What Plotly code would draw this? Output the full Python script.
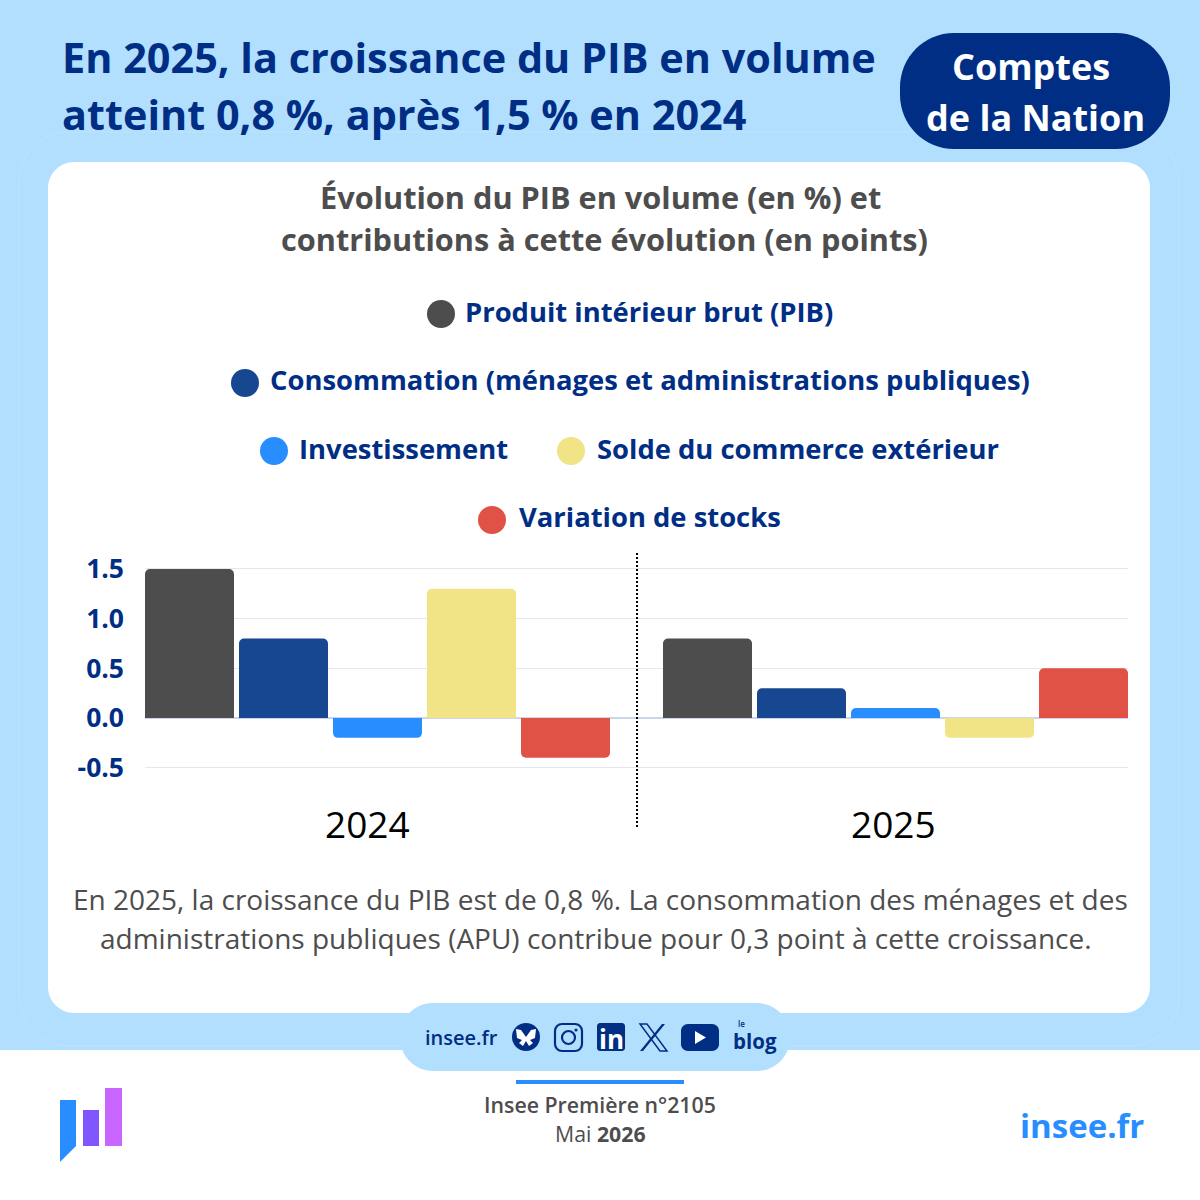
import plotly.graph_objects as go

# data
years = ["2024", "2025"]
series_names = ["Produit intérieur brut (PIB)", "Consommation (ménages et administrations publiques)",
                "Investissement", "Solde du commerce extérieur", "Variation de stocks"]
pib = [1.5, 0.8]
consommation = [0.8, 0.3]
investissement = [-0.2, 0.1]
commerce = [1.3, -0.2]
stocks = [-0.4, 0.5]
all_values = [pib, consommation, investissement, commerce, stocks]
y_ticks = [-0.5, 0, 0.5, 1, 1.5]
y_tick_labels = ["-0.5", "0.0", "0.5", "1.0", "1.5"]
colors = ["#4d4d4d", "#174791", "#288eff", "#f0e486", "#e05246"]

NAVY = "#002e85"
GREY = "#4d4d4d"
SKY = "#b3dfff"
FONT = "Open Sans"


def px(x):
    return x / 1200


def py(y):
    return 1 - y / 1200


def round_rect(x0, y0, x1, y1, r):
    k = r * 0.45
    return (f"M {px(x0 + r)} {py(y0)} L {px(x1 - r)} {py(y0)} "
            f"C {px(x1 - k)} {py(y0)} {px(x1)} {py(y0 + k)} {px(x1)} {py(y0 + r)} "
            f"L {px(x1)} {py(y1 - r)} C {px(x1)} {py(y1 - k)} {px(x1 - k)} {py(y1)} {px(x1 - r)} {py(y1)} "
            f"L {px(x0 + r)} {py(y1)} C {px(x0 + k)} {py(y1)} {px(x0)} {py(y1 - k)} {px(x0)} {py(y1 - r)} "
            f"L {px(x0)} {py(y0 + r)} C {px(x0)} {py(y0 + k)} {px(x0 + k)} {py(y0)} {px(x0 + r)} {py(y0)} Z")


def poly(points):
    return "M " + " L ".join(f"{px(x)} {py(y)}" for x, y in points) + " Z"


shapes = []


def add_path(path, fill="rgba(0,0,0,0)", line=None, width=0, layer="below"):
    shapes.append(dict(type="path", xref="paper", yref="paper", path=path, fillcolor=fill,
                       line=dict(color=line or "rgba(0,0,0,0)", width=width), layer=layer))


def add_circle(cx, cy, r, fill="rgba(0,0,0,0)", line=None, width=0, layer="below"):
    shapes.append(dict(type="circle", xref="paper", yref="paper", x0=px(cx - r), x1=px(cx + r),
                       y0=py(cy + r), y1=py(cy - r), fillcolor=fill,
                       line=dict(color=line or "rgba(0,0,0,0)", width=width), layer=layer))


annotations = []


def add_text(x, y, text, size, color, weight=400, anchor="center"):
    annotations.append(dict(xref="paper", yref="paper", x=px(x), y=py(y), text=text, showarrow=False,
                            xanchor=anchor, yanchor="middle", align=anchor,
                            font=dict(family=FONT, size=size, color=color, weight=weight)))


# background, cards
add_path(poly([(0, 0), (1200, 0), (1200, 1200), (0, 1200)]), fill=SKY)
add_path(round_rect(19, 132, 1179, 1046, 50), line="#bde3ff", width=1)
add_path(poly([(0, 1050), (1200, 1050), (1200, 1200), (0, 1200)]), fill="#ffffff")
add_path(round_rect(48, 162, 1150, 1013, 26), fill="#ffffff")
add_path(round_rect(400, 1003, 790, 1071, 33), fill=SKY)
add_path(round_rect(900, 33, 1170, 149, 54), fill=NAVY)
add_path(poly([(516, 1080), (684, 1080), (684, 1084), (516, 1084)]), fill="#288eff")

# logo
add_path(poly([(60, 1100), (76, 1100), (76, 1146), (60, 1162)]), fill="#288eff")
add_path(poly([(83, 1110), (99, 1110), (99, 1146), (83, 1146)]), fill="#7f56ff")
add_path(poly([(105, 1088), (122, 1088), (122, 1146), (105, 1146)]), fill="#c966ff")

# social icons
add_circle(526, 1037, 14, fill=NAVY)
add_path(poly([(526, 1037), (521, 1030), (516, 1029), (517, 1038), (522, 1040), (519, 1043), (523, 1046), (526, 1041),
               (529, 1046), (533, 1043), (530, 1040), (535, 1038), (536, 1029), (531, 1030)]), fill="#ffffff")
add_path(round_rect(555, 1024, 582, 1051, 7), line=NAVY, width=2.2)
add_circle(568.5, 1037.5, 6.5, line=NAVY, width=2.2)
add_circle(576, 1030, 1.6, fill=NAVY)
add_path(round_rect(597, 1023, 625, 1051, 3), fill=NAVY)
add_path(poly([(640, 1024), (647, 1024), (667, 1051), (660, 1051)]), line=NAVY, width=1.5)
add_path(poly([(665, 1024), (662, 1024), (640, 1051), (643, 1051)]), fill=NAVY)
add_path(round_rect(681, 1024, 719, 1051, 7), fill=NAVY)
add_path(poly([(695, 1031), (695, 1044), (706, 1037.5)]), fill="#ffffff")

# titles
add_text(60, 57, "En 2025, la croissance du PIB en volume", 41.4, NAVY, 700, "left")
add_text(60, 114, "atteint 0,8 %, après 1,5 % en 2024", 41.4, NAVY, 700, "left")
add_text(1030.5, 67, "Comptes", 36, "#ffffff", 700)
add_text(1035, 117, "de la Nation", 36, "#ffffff", 700)
add_text(600, 197, "Évolution du PIB en volume (en %) et", 30.7, GREY, 700)
add_text(604, 239, "contributions à cette évolution (en points)", 30.7, GREY, 700)

# legend rows, drawn by hand because they wrap and are centred
legend_x = [441, 245, 274, 571, 492]
legend_y = [314, 383, 451, 451, 520]
legend_text_y = [311.5, 379.5, 448.5, 448.5, 516.5]
legend_text_x = [463, 268, 297, 595, 517]
for name, color, lx, ly, tx, ty in zip(series_names, colors, legend_x, legend_y, legend_text_x, legend_text_y):
    add_circle(lx, ly, 14, fill=color)
    add_text(tx, ty, name, 27.4, NAVY, 700, "left")

# comment under the chart
add_text(600, 899, "En 2025, la croissance du PIB est de 0,8 %. La consommation des ménages et des", 28, GREY)
add_text(596, 938, "administrations publiques (APU) contribue pour 0,3 point à cette croissance.", 28, GREY)

# footer
add_text(461.5, 1037, "insee.fr", 20, NAVY, 600)
add_text(611, 1039, "in", 26, "#ffffff", 700)
add_text(754.5, 1041, "blog", 20.5, NAVY, 700)
add_text(741, 1023, "le", 8, NAVY, 600)
add_text(600, 1104, "Insee Première n°2105", 21.3, GREY, 600)
add_text(600, 1133, "Mai <b>2026</b>", 21.3, GREY)
add_text(1082, 1125, "insee.fr", 33, "#288eff", 700)

# year labels sit a little left of the bar groups
year_shift = [-10, -2]
for i, year in enumerate(years):
    annotations.append(dict(xref="x", yref="paper", x=i, y=py(823), text=year, showarrow=False,
                            xshift=year_shift[i], yanchor="middle",
                            font=dict(family=FONT, size=37, color="#000000")))

# dotted separator between the years
shapes.append(dict(type="line", xref="x", yref="paper", x0=0.501, x1=0.501, y0=py(827), y1=py(553), layer="above",
                   line=dict(color="#000000", width=2, dash="2px,2px")))

fig = go.Figure()
for name, values, color in zip(series_names, all_values, colors):
    fig.add_trace(go.Bar(x=years, y=values, name=name, marker=dict(color=color, line=dict(width=0), cornerradius=5)))

fig.update_layout(
    width=1200, height=1200, margin=dict(l=0, r=0, t=0, b=0, pad=0, autoexpand=False),
    paper_bgcolor=SKY, plot_bgcolor="rgba(0,0,0,0)",
    barmode="group", bargap=48 / 518, bargroupgap=5 / 94, showlegend=False,
    font=dict(family=FONT), shapes=shapes, annotations=annotations,
    xaxis=dict(type="category", domain=[px(145), px(1128)], range=[-0.4488, 1.4488], showticklabels=False,
               showgrid=False, zeroline=False, ticks="", automargin=False),
    yaxis=dict(domain=[py(769.65), py(567)], range=[-0.52, 1.52], tickvals=y_ticks, ticktext=y_tick_labels,
               tickfont=dict(family=FONT, size=26.5, color=NAVY, weight=700), ticklabelstandoff=20,
               gridcolor="#e3e7f3", gridwidth=1, zeroline=True, zerolinecolor="#ccd6eb", zerolinewidth=1.5, ticks="",
               automargin=False),
)

fig.write_html("out.html", config=dict(displayModeBar=False), post_script="document.body.style.margin='0';")
